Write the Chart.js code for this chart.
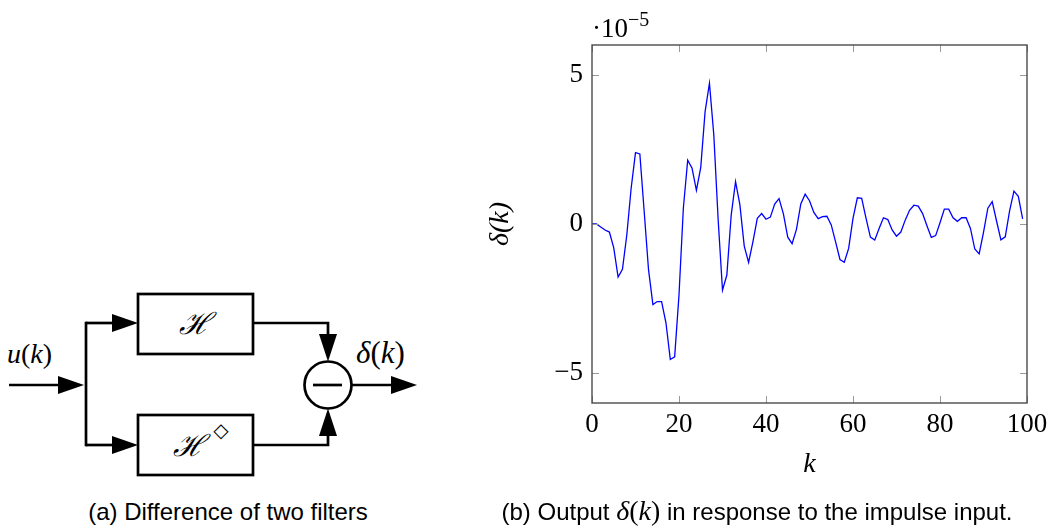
<!DOCTYPE html>
<html>
<head>
<meta charset="utf-8">
<script src="https://cdn.jsdelivr.net/npm/chart.js@4.4.0/dist/chart.umd.min.js"></script>
<style>
html,body{margin:0;padding:0;background:#fff;width:1053px;height:526px;overflow:hidden;position:relative;}
#diagram{position:absolute;left:0;top:0;}
#wrap{position:absolute;left:480px;top:0;width:573px;height:526px;}
#c{display:block;width:573px;height:526px;}
.cap{position:absolute;top:500px;transform:translateX(-50%);font-family:"Liberation Sans",Arial,sans-serif;font-size:24px;color:#000;white-space:nowrap;line-height:24px;height:24px;}
.m{font-family:"Liberation Serif",serif;font-style:italic;font-size:28px;line-height:0;}
.mu{font-family:"Liberation Serif",serif;font-style:normal;font-size:28px;line-height:0;}
#mult{position:absolute;left:592px;top:10px;font-family:"Liberation Serif",serif;font-size:27px;line-height:1;color:#000;white-space:nowrap;}
#mult sup{font-size:20px;position:relative;top:-1px;}
</style>
</head>
<body>
<svg id="diagram" width="480" height="526" viewBox="0 0 480 526" xmlns="http://www.w3.org/2000/svg">
  <g stroke="#000" stroke-width="2.7" fill="none" stroke-linejoin="miter">
    <line x1="9" y1="385" x2="60" y2="385"/>
    <line x1="86" y1="321.7" x2="86" y2="446.3"/>
    <line x1="86" y1="323" x2="114" y2="323"/>
    <line x1="86" y1="445" x2="114" y2="445"/>
    <rect x="138" y="294" width="115" height="60"/>
    <rect x="138" y="415" width="115" height="60"/>
    <polyline points="253,323 328,323 328,336"/>
    <polyline points="253,445 328,445 328,434"/>
    <circle cx="328" cy="385" r="23.5"/>
    <line x1="313" y1="385" x2="342" y2="385"/>
    <line x1="351.5" y1="385" x2="393" y2="385"/>
  </g>
  <g fill="#000" stroke="none">
    <polygon points="58,376 84,385 58,394"/>
    <polygon points="112,314 138,323 112,332"/>
    <polygon points="112,436 138,445 112,454"/>
    <polygon points="319,334 328,361.5 337,334"/>
    <polygon points="319,436 328,408.5 337,436"/>
    <polygon points="391,376 417,385 391,394"/>
  </g>
  <g font-family="Liberation Serif, serif" fill="#000">
    <text x="7" y="363" font-size="28"><tspan font-style="italic">u</tspan>(<tspan font-style="italic">k</tspan>)</text>
    <text x="356" y="363" font-size="31"><tspan font-style="italic">δ</tspan>(<tspan font-style="italic">k</tspan>)</text>
    <text x="195" y="334" font-size="30" font-style="italic" text-anchor="middle">ℋ</text>
    <text x="189" y="456" font-size="30" font-style="italic" text-anchor="middle">ℋ</text>
    <text x="221" y="437" font-size="20" text-anchor="middle" font-family="DejaVu Sans, sans-serif">◇</text>
  </g>
</svg>

<div id="wrap"><canvas id="c" width="573" height="526"></canvas></div>
<div id="mult">·10<sup>−5</sup></div>

<div class="cap" style="left:228px;">(a) Difference of two filters</div>
<div class="cap" style="left:757px;">(b) Output <span class="m">δ</span><span class="mu">(</span><span class="m">k</span><span class="mu">)</span> in response to the impulse input.</div>

<script>
// Output delta(k), in units of 1e-5, for k = 0..99
const delta = [
  0.00, 0.00, -0.10, -0.20, -0.27, -0.80, -1.78, -1.52, -0.37, 1.20,
  2.39, 2.35, 0.41, -1.54, -2.70, -2.60, -2.60, -3.31, -4.54, -4.45,
  -2.38, 0.53, 2.14, 1.87, 1.13, 1.90, 3.77, 4.72, 2.99, 0.15,
  -2.22, -1.71, 0.30, 1.42, 0.64, -0.74, -1.29, -0.59, 0.19, 0.35,
  0.16, 0.23, 0.67, 0.85, 0.34, -0.44, -0.66, -0.18, 0.67, 1.00,
  0.78, 0.39, 0.18, 0.25, 0.26, -0.03, -0.60, -1.19, -1.28, -0.82,
  0.19, 0.88, 0.86, 0.19, -0.44, -0.54, -0.15, 0.21, 0.15, -0.20,
  -0.41, -0.27, 0.13, 0.46, 0.63, 0.60, 0.35, -0.06, -0.45, -0.39,
  0.04, 0.50, 0.50, 0.21, 0.09, 0.21, 0.21, -0.15, -0.84, -1.00,
  -0.28, 0.53, 0.75, 0.10, -0.53, -0.43, 0.44, 1.10, 0.93, 0.17
];
const xTicks = [0, 20, 40, 60, 80, 100];
const yTicks = [-5, 0, 5];
const xRange = [0, 100];
const yRange = [-6, 6];

const points = delta.map((v, i) => ({x: i, y: v}));

const boxPlugin = {
  id: 'pgfbox',
  afterDraw(chart) {
    const {ctx, chartArea: a, scales: {x, y}} = chart;
    const TL = 7;
    ctx.save();
    ctx.strokeStyle = '#9a9a9a';
    ctx.lineWidth = 1;
    ctx.beginPath();
    x.ticks.forEach(t => {
      const px = Math.round(x.getPixelForValue(t.value)) + 0.5;
      ctx.moveTo(px, a.bottom); ctx.lineTo(px, a.bottom - TL);
      ctx.moveTo(px, a.top); ctx.lineTo(px, a.top + TL);
    });
    y.ticks.forEach(t => {
      const py = Math.round(y.getPixelForValue(t.value)) + 0.5;
      ctx.moveTo(a.left, py); ctx.lineTo(a.left + TL, py);
      ctx.moveTo(a.right, py); ctx.lineTo(a.right - TL, py);
    });
    ctx.stroke();
    ctx.strokeStyle = '#4a4a4a';
    ctx.lineWidth = 1.4;
    ctx.strokeRect(a.left, a.top, a.right - a.left, a.bottom - a.top);
    ctx.restore();
  }
};

const serif = '"Liberation Serif", "Times New Roman", serif';

new Chart(document.getElementById('c'), {
  type: 'line',
  data: {
    datasets: [{
      data: points,
      borderColor: '#0000ff',
      borderWidth: 1.3,
      pointRadius: 0,
      fill: false,
      tension: 0
    }]
  },
  options: {
    responsive: false,
    animation: false,
    devicePixelRatio: 1,
    layout: {padding: {left: 0, top: 45, right: 26, bottom: 0}},
    plugins: {legend: {display: false}, tooltip: {enabled: false}},
    scales: {
      x: {
        type: 'linear',
        min: xRange[0], max: xRange[1],
        afterBuildTicks(s) { s.ticks = xTicks.map(v => ({value: v})); },
        afterFit(s) { s.height = 123; },
        grid: {display: false},
        border: {display: false},
        ticks: {
          font: {family: serif, size: 27},
          color: '#000',
          padding: -2,
          maxRotation: 0,
          autoSkip: false
        },
        title: {
          display: true, text: 'k', color: '#000',
          font: {family: serif, size: 28, style: 'italic'},
          padding: {top: 0, bottom: 45}
        }
      },
      y: {
        type: 'linear',
        min: yRange[0], max: yRange[1],
        afterBuildTicks(s) { s.ticks = yTicks.map(v => ({value: v})); },
        afterFit(s) { s.width = 112; },
        grid: {display: false},
        border: {display: false},
        ticks: {
          font: {family: serif, size: 27},
          color: '#000',
          padding: 1,
          callback: v => v < 0 ? '\u2212' + Math.abs(v) : String(v)
        },
        title: {
          display: true, text: 'δ(k)', color: '#000',
          font: {family: serif, size: 28, style: 'italic'},
          padding: {top: 4, bottom: 0}
        }
      }
    }
  },
  plugins: [boxPlugin]
});
</script>
</body>
</html>
